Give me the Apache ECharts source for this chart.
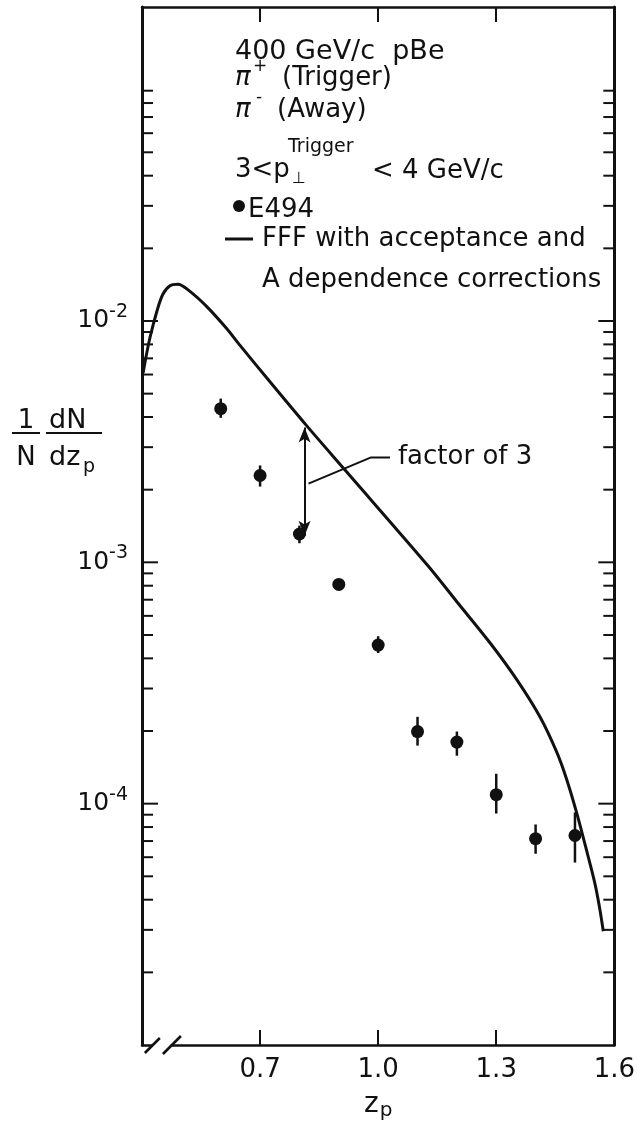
<!DOCTYPE html>
<html>
<head>
<meta charset="utf-8">
<script src="https://cdn.jsdelivr.net/npm/echarts@6/dist/echarts.min.js"></script>
<style>
  html, body { margin: 0; padding: 0; background: #fff; }
  #chart { width: 638px; height: 1126px; }
</style>
</head>
<body>
<div id="chart"></div>
<script>
// Away-side pi- fragmentation spectrum, 400 GeV/c pBe (E494)

// E494 measurements
const zp      = [0.6, 0.7, 0.8, 0.9, 1.0, 1.1, 1.2, 1.3, 1.4, 1.5];
const dndz    = [4.33e-3, 2.29e-3, 1.31e-3, 8.1e-4, 4.54e-4, 1.99e-4, 1.80e-4, 1.09e-4, 7.16e-5, 7.38e-5];
const errHigh = [4.77e-3, 2.52e-3, 1.42e-3, 8.3e-4, 4.94e-4, 2.29e-4, 1.99e-4, 1.33e-4, 8.2e-5, 9.2e-5];
const errLow  = [3.97e-3, 2.06e-3, 1.20e-3, 7.9e-4, 4.21e-4, 1.74e-4, 1.58e-4, 9.1e-5, 6.2e-5, 5.7e-5];

// FFF prediction with acceptance and A dependence corrections
const fffZ = [0.403, 0.408, 0.420, 0.438, 0.453, 0.471, 0.491, 0.521, 0.564, 0.614, 0.647, 0.723, 0.816,
              0.917, 1.126, 1.202, 1.285, 1.353, 1.411, 1.454, 1.479, 1.504, 1.529, 1.550, 1.562, 1.572];
const fffY = [6.1e-3, 6.8e-3, 8.5e-3, 1.10e-2, 1.29e-2, 1.40e-2, 1.42e-2, 1.33e-2, 1.15e-2, 9.35e-3, 8.0e-3, 5.65e-3, 3.72e-3,
              2.40e-3, 9.7e-4, 6.8e-4, 4.62e-4, 3.25e-4, 2.29e-4, 1.63e-4, 1.26e-4, 9.2e-5, 6.45e-5, 4.72e-5, 3.75e-5, 2.96e-5];

// "factor of 3" arrow between curve and data, and its leader line
const factorArrow = [[0.813, 3.62e-3], [0.813, 1.29e-3]];
const factorLeader = [[0.823, 2.12e-3], [0.982, 2.72e-3], [1.030, 2.72e-3]];

// axis ticks and labels
const xTickValues  = [0.7, 1.0, 1.3];
const xLabelValues = [0.7, 1.0, 1.3, 1.6];
const yLabelExponents = [-2, -3, -4];
const yMajorTicks = [1e-4, 1e-3, 1e-2];
const yMinorTicks = [
  2e-5, 3e-5, 4e-5, 5e-5, 6e-5, 7e-5, 8e-5, 9e-5,
  2e-4, 3e-4, 4e-4, 5e-4, 6e-4, 7e-4, 8e-4, 9e-4,
  2e-3, 3e-3, 4e-3, 5e-3, 6e-3, 7e-3, 8e-3, 9e-3,
  2e-2, 3e-2, 4e-2, 5e-2, 6e-2, 7e-2, 8e-2, 9e-2
];

const X_MIN = 0.4, X_MAX = 1.6, Y_MIN = 1e-5, Y_MAX = 0.2;
const INK = '#111';
const FONT = 'DejaVu Sans';

const chart = echarts.init(document.getElementById('chart'), null, { renderer: 'canvas' });

// inward tick marks on both vertical frame sides
function frameTicks(values, len) {
  return {
    type: 'custom',
    silent: true,
    clip: false,
    z: 5,
    data: values.map(v => [X_MIN, v]),
    renderItem(params, api) {
      const v = api.value(1);
      const l = api.coord([X_MIN, v]);
      const r = api.coord([X_MAX, v]);
      return {
        type: 'group',
        children: [
          { type: 'line', shape: { x1: l[0], y1: l[1], x2: l[0] + len, y2: l[1] }, style: { stroke: INK, lineWidth: 2 } },
          { type: 'line', shape: { x1: r[0] - len, y1: r[1], x2: r[0], y2: r[1] }, style: { stroke: INK, lineWidth: 2 } }
        ]
      };
    }
  };
}

function txt(x, y, text, font, align) {
  return { type: 'text', x: x, y: y, style: { text: text, font: font, fill: INK, align: align || 'left', verticalAlign: 'middle' } };
}
const F26 = '26px ' + FONT;
const F27 = '27px ' + FONT;

const axisLineStyle = { color: INK, width: 2.5 };

const option = {
  animation: false,
  backgroundColor: '#fff',
  textStyle: { fontFamily: FONT, color: INK },
  grid: { left: 142, right: 20, top: 7, bottom: 81 },
  xAxis: [
    {
      type: 'value', min: X_MIN, max: X_MAX, position: 'bottom',
      axisLine: { show: true, onZero: false, lineStyle: axisLineStyle },
      axisTick: { show: true, inside: true, length: 15, customValues: xTickValues, lineStyle: { color: INK, width: 2 } },
      axisLabel: { customValues: xLabelValues, formatter: v => v.toFixed(1), fontSize: 26, color: INK, margin: 12, fontFamily: FONT },
      splitLine: { show: false },
      name: '{z|z}{p|p}',
      nameLocation: 'middle',
      nameGap: 44,
      nameTextStyle: {
        rich: {
          z: { fontSize: 28, fontFamily: FONT, color: INK },
          p: { fontSize: 20, fontFamily: FONT, color: INK, padding: [12, 0, 0, 1] }
        }
      }
    },
    {
      type: 'value', min: X_MIN, max: X_MAX, position: 'top',
      axisLine: { show: true, onZero: false, lineStyle: axisLineStyle },
      axisTick: { show: true, inside: true, length: 15, customValues: xTickValues, lineStyle: { color: INK, width: 2 } },
      axisLabel: { show: false },
      splitLine: { show: false }
    }
  ],
  yAxis: [
    {
      type: 'log', logBase: 10, min: Y_MIN, max: Y_MAX, position: 'left',
      axisLine: { show: true, lineStyle: { color: INK, width: 3 } },
      axisTick: { show: false },
      axisLabel: {
        margin: 14,
        formatter: v => {
          const e = Math.round(Math.log10(v));
          return yLabelExponents.indexOf(e) >= 0 ? '{b|10}{s|' + e + '}' : '';
        },
        rich: {
          b: { fontSize: 25, fontFamily: FONT, color: INK },
          s: { fontSize: 19, fontFamily: FONT, color: INK, padding: [0, 0, 18, 0] }
        }
      },
      splitLine: { show: false }
    },
    {
      type: 'log', logBase: 10, min: Y_MIN, max: Y_MAX, position: 'right',
      axisLine: { show: true, lineStyle: { color: INK, width: 3 } },
      axisTick: { show: false },
      axisLabel: { show: false },
      splitLine: { show: false }
    }
  ],
  series: [
    frameTicks(yMajorTicks, 16),
    frameTicks(yMinorTicks, 11),
    // broken-axis mark at the lower left corner
    {
      type: 'custom', silent: true, clip: false, z: 6,
      data: [[0.425, Y_MIN]],
      renderItem(params, api) {
        const a = api.coord([0.425, Y_MIN]);
        const b = api.coord([0.476, Y_MIN]);
        return {
          type: 'group',
          children: [
            { type: 'rect', shape: { x: a[0] + 1, y: a[1] - 3, width: b[0] - a[0] - 2, height: 6 }, style: { fill: '#fff' } },
            { type: 'line', shape: { x1: a[0] - 7, y1: a[1] + 8, x2: a[0] + 8, y2: a[1] - 7 }, style: { stroke: INK, lineWidth: 2.5 } },
            { type: 'line', shape: { x1: b[0] - 9, y1: b[1] + 9, x2: b[0] + 9, y2: b[1] - 9 }, style: { stroke: INK, lineWidth: 2.5 } }
          ]
        };
      }
    },
    {
      name: 'FFF',
      type: 'line',
      data: fffZ.map((z, i) => [z, fffY[i]]),
      showSymbol: false,
      smooth: 0.3,
      lineStyle: { color: INK, width: 3 },
      z: 3
    },
    // error bars
    {
      type: 'custom', silent: true, z: 4,
      data: zp.map((z, i) => [z, errLow[i], errHigh[i]]),
      encode: { x: 0, y: [1, 2] },
      renderItem(params, api) {
        const lo = api.coord([api.value(0), api.value(1)]);
        const hi = api.coord([api.value(0), api.value(2)]);
        return { type: 'line', shape: { x1: lo[0], y1: lo[1], x2: hi[0], y2: hi[1] }, style: { stroke: INK, lineWidth: 2.5 } };
      }
    },
    {
      name: 'E494',
      type: 'scatter',
      data: zp.map((z, i) => [z, dndz[i]]),
      symbol: 'circle',
      symbolSize: 13,
      itemStyle: { color: INK, opacity: 1 },
      z: 5
    },
    // factor of 3 annotation
    {
      type: 'line',
      data: factorLeader,
      showSymbol: false,
      lineStyle: { color: INK, width: 2 },
      silent: true,
      endLabel: {
        show: true, formatter: 'factor of 3', distance: 8,
        fontSize: 26, fontFamily: FONT, color: INK
      },
      markLine: {
        silent: true,
        symbol: ['arrow', 'arrow'],
        symbolSize: [9, 15],
        label: { show: false },
        lineStyle: { type: 'solid', color: INK, width: 2 },
        data: [[{ coord: factorArrow[0] }, { coord: factorArrow[1] }]]
      },
      z: 4
    }
  ],
  graphic: [
    // y-axis title: (1/N) dN/dz_p
    txt(26, 421, '1', F26, 'center'),
    { type: 'line', shape: { x1: 12, y1: 433, x2: 40, y2: 433 }, style: { stroke: INK, lineWidth: 2 } },
    txt(26, 458, 'N', F26, 'center'),
    txt(49, 421, 'dN', F27),
    { type: 'line', shape: { x1: 46, y1: 433, x2: 102, y2: 433 }, style: { stroke: INK, lineWidth: 2 } },
    txt(49, 458, 'dz', F27),
    txt(83, 467, 'p', '19px ' + FONT),
    // description and key
    txt(235, 52, '400 GeV/c  pBe', F27),
    txt(235, 78, 'π', 'italic 26px ' + FONT),
    txt(253, 67, '+', '17px ' + FONT),
    txt(282, 78, '(Trigger)', F26),
    txt(235, 110, 'π', 'italic 26px ' + FONT),
    txt(256, 98, '-', '17px ' + FONT),
    txt(277, 110, '(Away)', F26),
    txt(235, 170, '3<p', F26),
    txt(288, 147, 'Trigger', '19px ' + FONT),
    txt(292, 179, '⊥', '16px ' + FONT),
    txt(372, 171, '< 4 GeV/c', F26),
    { type: 'circle', shape: { cx: 239, cy: 206, r: 6 }, style: { fill: INK } },
    txt(248, 210, 'E494', F26),
    { type: 'line', shape: { x1: 225, y1: 239, x2: 253, y2: 239 }, style: { stroke: INK, lineWidth: 3 } },
    txt(262, 239, 'FFF with acceptance and', F26),
    txt(262, 280, 'A dependence corrections', F26)
  ]
};

chart.setOption(option);
</script>
</body>
</html>
